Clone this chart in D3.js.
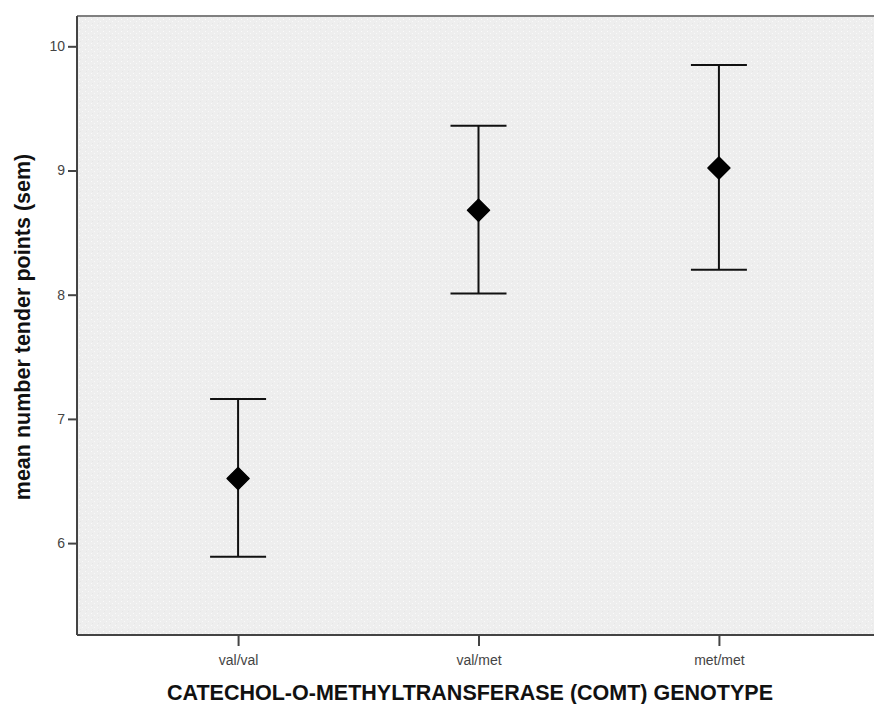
<!DOCTYPE html>
<html><head><meta charset="utf-8">
<script src="https://cdn.jsdelivr.net/npm/d3@7"></script>
<style>body{margin:0;background:#fff}svg{display:block}</style>
</head><body>
<svg id="c" width="874" height="704"></svg>
<script>
const categories = ["val/val", "val/met", "met/met"];
const means = [6.52, 8.68, 9.02];
const upper = [7.16, 9.36, 9.85];
const lower = [5.89, 8.01, 8.20];
const yTicks = [6, 7, 8, 9, 10];
const xTitle = "CATECHOL-O-METHYLTRANSFERASE (COMT) GENOTYPE";
const yTitle = "mean number tender points (sem)";

const svg = d3.select("#c");
const L = 77, T = 16, R = 880, B = 635;

const x = d3.scalePoint().domain(categories).range([L, R]).padding(0.67);
const y = d3.scaleLinear().domain([5.26, 10.244]).range([B, T]);

// stipple pattern
const defs = svg.append("defs");
const pat = defs.append("pattern").attr("id", "stip").attr("patternUnits", "userSpaceOnUse")
  .attr("width", 6).attr("height", 6);
pat.append("rect").attr("width", 6).attr("height", 6).attr("fill", "#eeeeee");
pat.append("rect").attr("x", 1).attr("y", 1).attr("width", 1).attr("height", 1).attr("fill", "#fbfbfb");
pat.append("rect").attr("x", 4).attr("y", 3).attr("width", 1).attr("height", 1).attr("fill", "#f9f9f9");
pat.append("rect").attr("x", 2).attr("y", 5).attr("width", 1).attr("height", 1).attr("fill", "#e6e6e6");

svg.append("rect").attr("x", L).attr("y", T).attr("width", R - L).attr("height", B - T)
  .attr("fill", "url(#stip)");
// top border
svg.append("line").attr("x1", L).attr("x2", 874).attr("y1", T).attr("y2", T)
  .attr("stroke", "#808080").attr("stroke-width", 2);

const font = "Liberation Sans, Arial, sans-serif";

// axes
const yAxis = d3.axisLeft(y).tickValues(yTicks).tickSize(9).tickPadding(3).tickFormat(d3.format("d"));
const gy = svg.append("g").attr("transform", `translate(${L},0)`).call(yAxis);
gy.select(".domain").attr("stroke", "#444").attr("stroke-width", 2).attr("d", `M0,${T}V${B}`);
gy.selectAll(".tick line").attr("stroke", "#444").attr("stroke-width", 2);
gy.selectAll(".tick text").attr("font-family", font)
  .attr("font-size", 14).attr("fill", "#444");

const xAxis = d3.axisBottom(x).tickSize(11).tickPadding(9);
const gx = svg.append("g").attr("transform", `translate(0,${B})`).call(xAxis);
gx.select(".domain").attr("stroke", "#444").attr("stroke-width", 2).attr("d", `M${L},0H874`);
gx.selectAll(".tick line").attr("stroke", "#444").attr("stroke-width", 2);
gx.selectAll(".tick text").attr("font-family", font)
  .attr("font-size", 14).attr("fill", "#444");

// error bars
const cap = 28;
const g = svg.append("g");
categories.forEach((c, i) => {
  const cx = x(c);
  g.append("line").attr("x1", cx).attr("x2", cx).attr("y1", y(upper[i])).attr("y2", y(lower[i]))
    .attr("stroke", "#111").attr("stroke-width", 2);
  [upper[i], lower[i]].forEach(v => {
    g.append("line").attr("x1", cx - cap).attr("x2", cx + cap).attr("y1", y(v)).attr("y2", y(v))
      .attr("stroke", "#111").attr("stroke-width", 2);
  });
  const h = 11;
  g.append("path").attr("d", `M${cx},${y(means[i]) - h}L${cx + h},${y(means[i])}L${cx},${y(means[i]) + h}L${cx - h},${y(means[i])}Z`)
    .attr("fill", "#000").attr("stroke", "#000").attr("stroke-linejoin", "round").attr("stroke-width", 1.5);
});

// titles
svg.append("text").attr("x", 470).attr("y", 700).attr("text-anchor", "middle")
  .attr("font-family", font).attr("font-weight", "bold")
  .attr("font-size", 21.5).attr("fill", "#111").text(xTitle);
svg.append("text").attr("transform", "translate(30,327) rotate(-90)").attr("text-anchor", "middle")
  .attr("font-family", font).attr("font-weight", "bold")
  .attr("font-size", 21.5).attr("fill", "#111").text(yTitle);
</script>
</body></html>
